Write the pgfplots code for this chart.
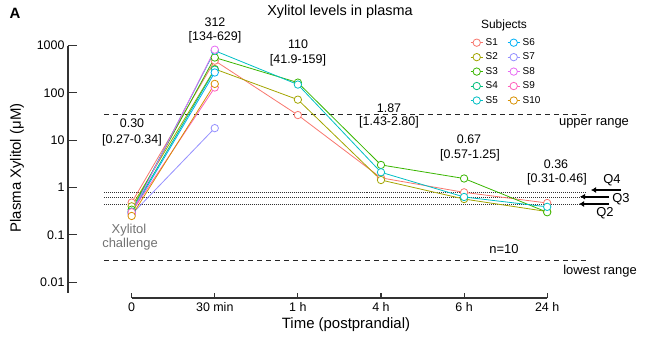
\documentclass[border=0pt]{standalone}
\usepackage{pgfplots}
\pgfplotsset{compat=1.18}
\usepackage{fontspec}
\setmainfont{Liberation Sans}
\usetikzlibrary{arrows.meta}
\definecolor{cS1}{HTML}{F8766D}
\definecolor{cS2}{HTML}{A3A500}
\definecolor{cS3}{HTML}{39B600}
\definecolor{cS4}{HTML}{00BF7D}
\definecolor{cS5}{HTML}{00BFC4}
\definecolor{cS6}{HTML}{00B0F6}
\definecolor{cS7}{HTML}{9590FF}
\definecolor{cS8}{HTML}{E76BF3}
\definecolor{cS9}{HTML}{FF62BC}
\definecolor{cS10}{HTML}{D89000}
\newcommand{\fs}[1]{\fontsize{#1}{#1}\selectfont}
\pgfplotsset{subj/.style={color=#1, line width=0.8bp, mark=*, mark size=3.7bp, mark options={fill=white, draw=#1, line width=0.8bp}}}
\begin{document}
\begin{tikzpicture}[x=1bp,y=1bp]
\useasboundingbox (0,0) rectangle (649,337);
\begin{axis}[
  at={(68bp,39bp)}, anchor=south west, scale only axis,
  width=572bp, height=252.4bp,
  xmin=-0.766, xmax=6.117,
  ymode=log, ymin=0.00461, ymax=1000,
  axis line style={draw=none},
  xtick={0,1,2,3,4,5}, xticklabels={0,30 min,1 h,4 h,6 h,24 h},
  x tick style={draw=none},
  ytick={0.01,0.1,1,10,100,1000}, yticklabels={0.01,0.1,1,10,100,1000},
  y tick style={black!80, line width=1.1bp},
  ytick pos=left, xtick pos=bottom, tick align=inside, major tick length=9bp,
  yminorticks=false,
  ticklabel style={font=\fs{12.5}},
  xticklabel style={yshift=-1bp},
  clip=false,
  legend columns=5, transpose legend,
  legend cell align=left,
  legend image code/.code={\draw[mark repeat=2,mark phase=2,#1] plot coordinates {(0bp,0bp) (6bp,0bp) (12bp,0bp)};},
  legend style={draw=none, fill=none, at={(0.703,1.035)}, anchor=north west,
    font=\fs{10}, row sep=3bp, column sep=1bp, inner sep=0pt,
    nodes={inner sep=1.5bp},
    /tikz/every even column/.append style={column sep=8bp}},
]
% reference lines
\addplot[forget plot, black!85, line width=1bp, dash pattern=on 5bp off 4bp] coordinates {(-0.333,35) (5.476,35)};
\addplot[forget plot, black!85, line width=1bp, dash pattern=on 5bp off 4bp] coordinates {(-0.333,0.028) (5.476,0.028)};
\addplot[forget plot, black!80, line width=1bp, densely dotted] coordinates {(-0.333,0.79) (5.476,0.79)};
\addplot[forget plot, black!80, line width=1bp, densely dotted] coordinates {(-0.333,0.61) (5.476,0.61)};
\addplot[forget plot, black!80, line width=1bp, densely dotted] coordinates {(-0.333,0.43) (5.476,0.43)};
% subjects
\addplot[subj=cS1] coordinates {(0,0.48) (1,480) (2,34) (3,1.6) (4,0.79) (5,0.47)};
\addlegendentry{S1}
\addplot[subj=cS2] coordinates {(0,0.40) (1,320) (2,72) (3,1.44) (4,0.57) (5,0.31)};
\addlegendentry{S2}
\addplot[subj=cS3] coordinates {(0,0.34) (1,560) (2,165) (3,3.0) (4,1.55) (5,0.30)};
\addlegendentry{S3}
\addplot[subj=cS4] coordinates {(0,0.31) (1,310)};
\addlegendentry{S4}
\addplot[subj=cS5] coordinates {(0,0.30) (1,780) (2,150) (3,2.1) (4,0.63) (5,0.39)};
\addlegendentry{S5}
\addplot[subj=cS6] coordinates {(0,0.29) (1,270)};
\addlegendentry{S6}
\addplot[subj=cS7] coordinates {(0,0.27) (1,18)};
\addlegendentry{S7}
\addplot[subj=cS8] coordinates {(0,0.28) (1,820)};
\addlegendentry{S8}
\addplot[subj=cS9] coordinates {(0,0.30) (1,130)};
\addlegendentry{S9}
\addplot[subj=cS10] coordinates {(0,0.25) (1,155)};
\addlegendentry{S10}
\end{axis}
% axis lines
\draw[black!80, line width=1.1bp] (68,291.4) -- (68,44.3);
\draw[black!80, line width=1.1bp] (131.7,39) -- (547.2,39);
\foreach \i in {0,...,5} {\draw[black!80, line width=1.1bp] (131.7+83.1*\i,39) -- ++(0,5.5);}
% texts
\node[font=\bfseries\fs{15}] at (15,324) {A};
\node[font=\fs{14.5}] at (340,325) {Xylitol levels in plasma};
\node[font=\fs{12.5}] at (215,315) {312};
\node[font=\fs{12.5}] at (215,300) {[134-629]};
\node[font=\fs{12.5}] at (298,293) {110};
\node[font=\fs{12.5}] at (298,277) {[41.9-159]};
\node[font=\fs{12.5}] at (132,214) {0.30};
\node[font=\fs{12.5}] at (132,197) {[0.27-0.34]};
\node[font=\fs{12.5}] at (389,229) {1.87};
\node[font=\fs{12.5}] at (389,215) {[1.43-2.80]};
\node[font=\fs{12.5}] at (469,198) {0.67};
\node[font=\fs{12.5}] at (470,182) {[0.57-1.25]};
\node[font=\fs{12.5}] at (556,173) {0.36};
\node[font=\fs{12.5}] at (557,158) {[0.31-0.46]};
\node[font=\fs{13}] at (594,214) {upper range};
\node[font=\fs{13}] at (504,87.5) {n=10};
\node[font=\fs{13}] at (600,66) {lowest range};
\node[font=\fs{13}, text=black!55] at (129,107) {Xylitol};
\node[font=\fs{13}, text=black!55] at (130,93) {challenge};
\node[font=\fs{13}] at (612,157) {Q4};
\node[font=\fs{13}] at (621,138) {Q3};
\node[font=\fs{13}] at (605,124) {Q2};
\draw[line width=2bp, -{Latex[length=5bp,width=6bp]}] (621,147) -- (591,147);
\draw[line width=2bp, -{Latex[length=5bp,width=6bp]}] (609,140.3) -- (580,140.3);
\draw[line width=2bp, -{Latex[length=5bp,width=6bp]}] (609,133) -- (579,133);
\node[font=\fs{12}] at (504,312) {Subjects};
\node[font=\fs{15}] at (346,12) {Time (postprandial)};
\node[font=\fs{15}, rotate=90] at (17,169) {Plasma Xylitol (μM)};
\end{tikzpicture}
\end{document}
